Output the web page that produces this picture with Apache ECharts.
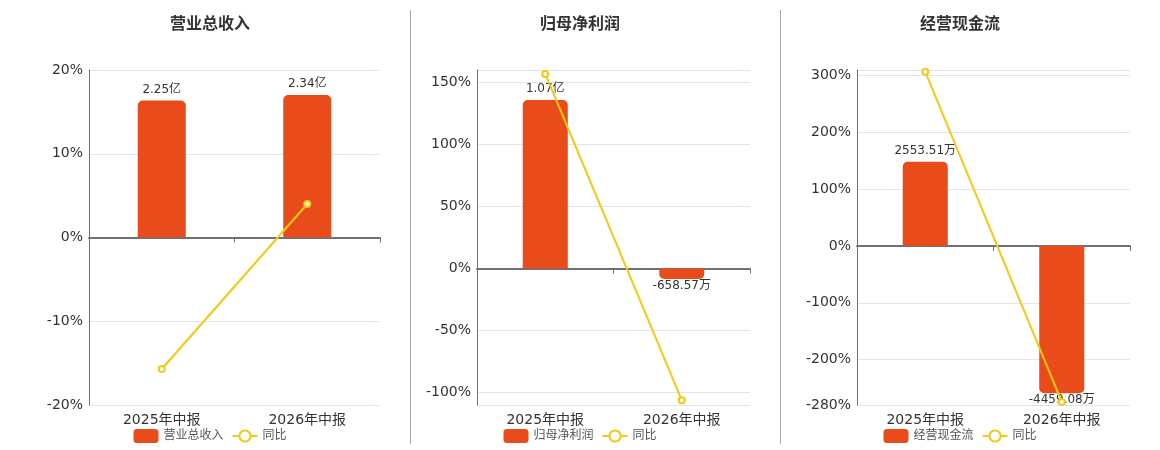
<!DOCTYPE html>
<html>
<head>
<meta charset="utf-8">
<script src="https://cdn.jsdelivr.net/npm/echarts@6/dist/echarts.min.js"></script>
<style>
  html, body { margin: 0; padding: 0; background: #fff; }
  #wrap { position: relative; width: 1160px; height: 450px; }
  .panel { position: absolute; top: 0; height: 450px; }
  .divider { position: absolute; top: 10px; height: 434px; width: 1px; background: #aaa; z-index: 5; }
</style>
</head>
<body>
<div id="wrap">
  <div id="chart1" class="panel" style="left:0;width:420px"></div>
  <div id="chart2" class="panel" style="left:400px;width:360px"></div>
  <div id="chart3" class="panel" style="left:780px;width:360px"></div>
  <div class="divider" style="left:410px"></div>
  <div class="divider" style="left:780px"></div>
</div>
<script>
// 报告期
var categories = ['2025年中报', '2026年中报'];

// 指标名称
var titles = ['营业总收入', '归母净利润', '经营现金流'];

// 金额（万元）
var revenue = [22500, 23400];
var netProfit = [10700, -658.57];
var cashFlow = [2553.51, -4459.08];

// 同比（%）
var revenueYoy = [-15.7, 4.0];
var netProfitYoy = [156.8, -106.15];
var cashFlowYoy = [306.9, -274.6];

// 同比轴范围（%）
var pctMin = [-20, -110, -280];
var pctMax = [20, 160, 310];

// 金额轴上限（万元），下限按同比轴对齐零点
var amountMax = [27500, 12600, 5330];

var barColor = '#e94b1b';
var lineColor = '#f5c90f';
var font = '"DejaVu Sans", "Noto Sans CJK SC", sans-serif';

function fmtAmount(v) {
  if (Math.abs(v) >= 10000) {
    return (v / 10000).toFixed(2) + '亿';
  }
  return v.toFixed(2) + '万';
}

function draw(domId, idx, amounts, yoy, gridLeft, gridRight) {
  var myChart = echarts.init(document.getElementById(domId));
  var name = titles[idx];
  var aMax = amountMax[idx];
  var aMin = aMax * pctMin[idx] / pctMax[idx];

  myChart.setOption({
    animation: false,
    textStyle: { fontFamily: font },
    title: {
      text: name,
      left: 'center',
      top: 12,
      textStyle: { fontSize: 16, fontWeight: 'bold', color: '#333', fontFamily: font }
    },
    legend: {
      left: 'center',
      top: 424,
      textStyle: { fontSize: 12, color: '#555', fontFamily: font },
      data: [name, '同比']
    },
    grid: { left: gridLeft, right: gridRight, top: 70, bottom: 45 },
    xAxis: [
      {
        type: 'category',
        data: categories,
        position: 'bottom',
        axisLine: { show: false, onZero: false },
        axisTick: { show: false },
        axisLabel: { fontSize: 14, color: '#333', margin: 8, fontFamily: font }
      },
      {
        type: 'category',
        data: categories,
        position: 'top',
        axisLine: { show: true, onZero: true, lineStyle: { color: '#6e7079', width: 2 } },
        axisTick: { show: true, inside: true, length: 5, lineStyle: { color: '#6e7079' } },
        axisLabel: { show: false }
      }
    ],
    yAxis: [
      {
        type: 'value',
        min: pctMin[idx],
        max: pctMax[idx],
        axisLine: { show: true, lineStyle: { color: '#6e7079' } },
        axisTick: { show: false },
        axisLabel: { fontSize: 14, color: '#333', margin: 6, formatter: '{value}%', fontFamily: font },
        splitLine: { lineStyle: { color: '#e0e6f1' } }
      },
      {
        type: 'value',
        min: aMin,
        max: aMax,
        show: false,
        splitLine: { show: false }
      }
    ],
    series: [
      {
        name: name,
        type: 'bar',
        xAxisIndex: 0,
        yAxisIndex: 1,
        barWidth: '33%',
        z: 2,
        data: amounts.map(function (v) {
          return {
            value: v,
            itemStyle: { borderRadius: v >= 0 ? [5, 5, 0, 0] : [0, 0, 5, 5] },
            label: v >= 0 ? { position: 'top', distance: 5 } : { position: 'bottom', distance: 1 }
          };
        }),
        itemStyle: { color: barColor },
        label: {
          show: true,
          fontSize: 12,
          color: '#333',
          fontFamily: font,
          formatter: function (p) { return fmtAmount(p.value); }
        }
      },
      {
        name: '同比',
        type: 'line',
        xAxisIndex: 0,
        yAxisIndex: 0,
        z: 3,
        symbol: 'emptyCircle',
        symbolSize: 6,
        lineStyle: { color: lineColor, width: 2 },
        itemStyle: { color: lineColor },
        data: yoy
      }
    ]
  });
}

draw('chart1', 0, revenue, revenueYoy, 89, 40);
draw('chart2', 1, netProfit, netProfitYoy, 77, 10);
draw('chart3', 2, cashFlow, cashFlowYoy, 77, 10);
</script>
</body>
</html>
